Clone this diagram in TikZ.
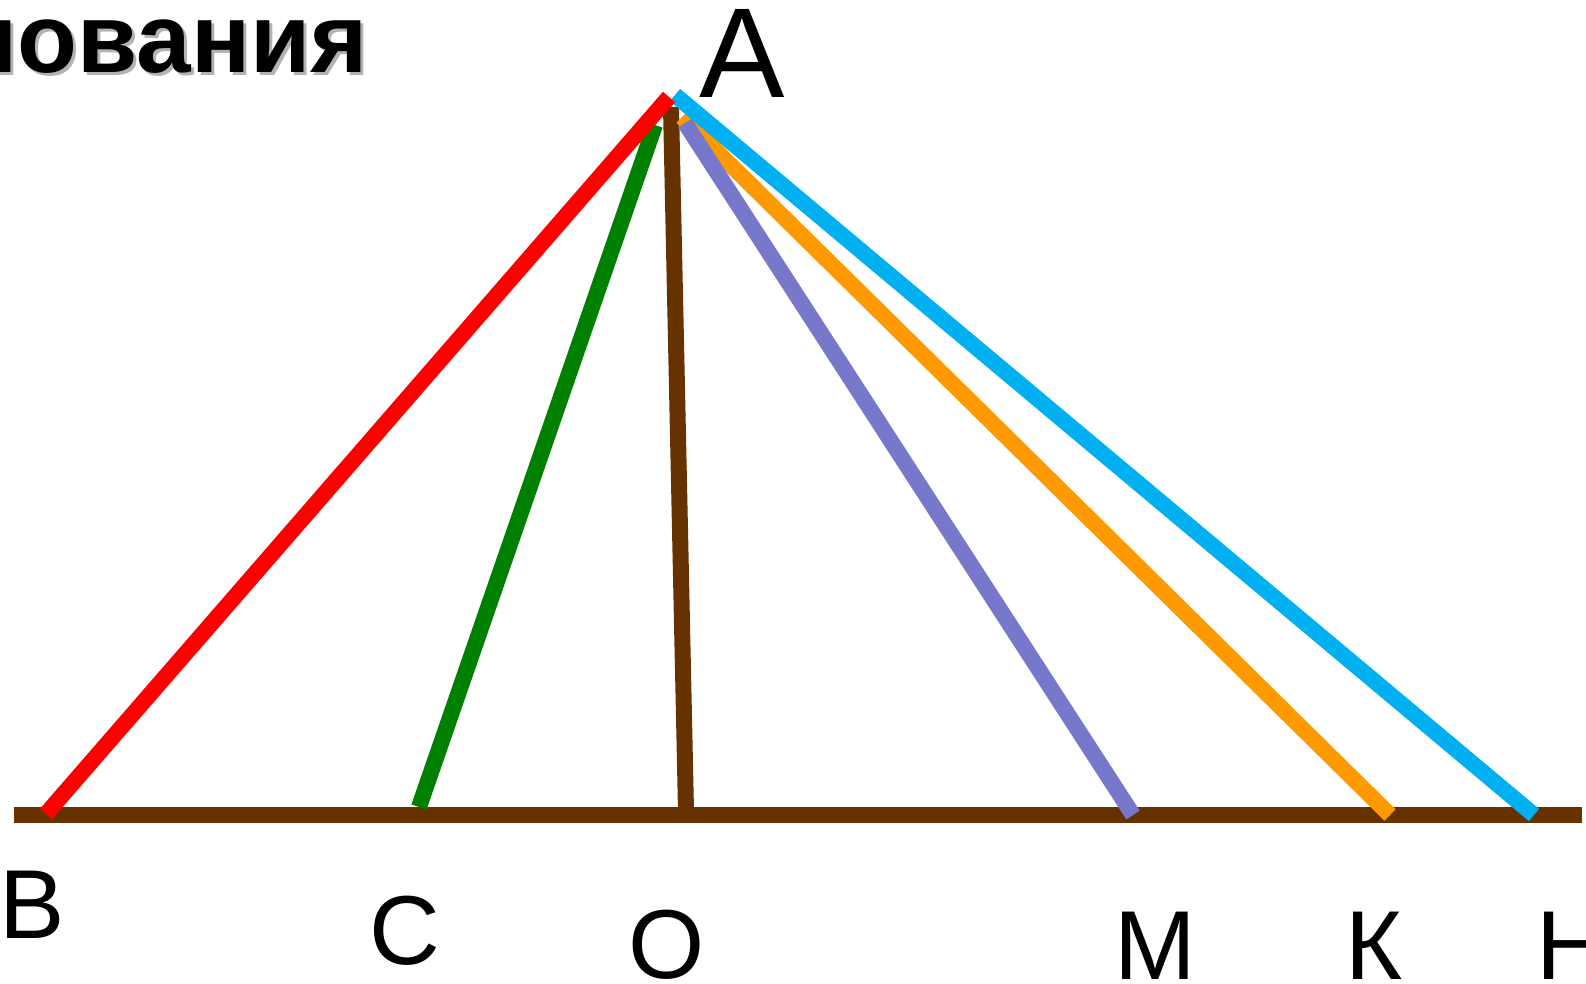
\documentclass[tikz,border=0pt]{standalone}
\usepackage{fontspec}
\setmainfont{Liberation Sans}
\usetikzlibrary{positioning}

\definecolor{segbrown}{HTML}{663300}
\definecolor{segred}{HTML}{FF0000}
\definecolor{seggreen}{HTML}{008000}
\definecolor{segviolet}{HTML}{7777CC}
\definecolor{segorange}{HTML}{FF9900}
\definecolor{segcyan}{HTML}{00B0F0}

\begin{document}
\begin{tikzpicture}[x=0.5pt, y=-0.5pt,
  seg/.style={line width=8pt},
  lbl/.style={font=\fontsize{49}{49}\selectfont, inner sep=0pt, anchor=base}
]
  \useasboundingbox (0,0) rectangle (1586,984);
  % heading (cut off at the left)
  \node[inner sep=0pt, anchor=base east, text=black!30,
    font=\fontsize{49}{49}\selectfont\bfseries] (titleshadow) at (371,76) {нования};
  \node[inner sep=0pt, anchor=base east,
    font=\fontsize{49}{49}\selectfont\bfseries] (title) at (368,73) {нования};

  % ends of the segments
  \coordinate (Ab) at (671,107);
  \coordinate (Ar) at (669,97);
  \coordinate (Ag) at (655,125);
  \coordinate (Av) at (685,123);
  \coordinate (Ao) at (682,117);
  \coordinate (Ac) at (675,95);
  \coordinate (left) at (14,815);
  \coordinate (right) at (1582,815);
  \coordinate (B) at (46,814);
  \coordinate (C) at (419,807);
  \coordinate (O) at (686,811);
  \coordinate (M) at (1133,815);
  \coordinate (K) at (1390,815);
  \coordinate (H) at (1534,815);

  \draw[line width=8pt, segbrown] (left) -- (right);
  \draw[seg, segbrown] (Ab) -- (O);
  \draw[seg, segorange] (Ao) -- (K);
  \draw[seg, segviolet] (Av) -- (M);
  \draw[seg, seggreen] (Ag) -- (C);
  \draw[seg, segcyan] (Ac) -- (H);
  \draw[seg, segred] (Ar) -- (B);

  % letters
  \node[lbl, font=\fontsize{64}{64}\selectfont] (lblA) at (742,98) {А};
  \node[lbl] (lblB) at (32,938) {В};
  \node[lbl] (lblC) at (405,964) {С};
  \node[lbl] (lblO) at (667,978) {О};
  \node[lbl] (lblM) at (1155,979) {М};
  \node[lbl] (lblK) at (1374,979) {К};
  \node[lbl] (lblH) at (1572,979) {Н};
\end{tikzpicture}
\end{document}
